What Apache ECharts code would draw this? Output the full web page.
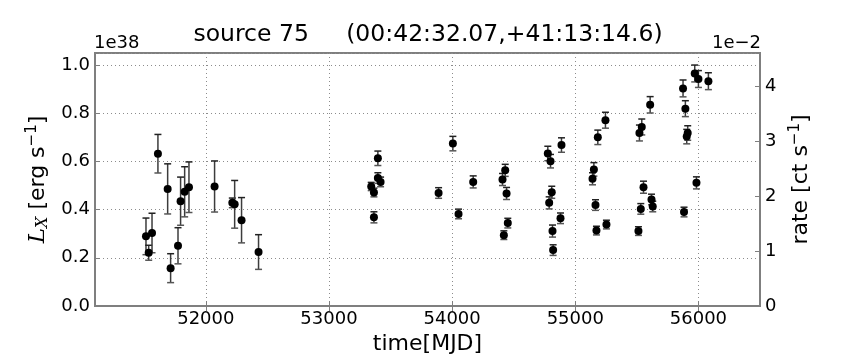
<!DOCTYPE html>
<html>
<head>
<meta charset="utf-8">
<script src="https://cdn.jsdelivr.net/npm/echarts@6/dist/echarts.min.js"></script>
<style>html,body{margin:0;padding:0;background:#fff}#c{width:864px;height:360px}</style>
</head>
<body>
<div id="c"></div>
<script>
// ---- data ----
var mjd = [51514,51536,51563,51611,51690,51714,51774,51795,51828,51863,52071,52215,52234,52290,52428,
  53343,53365,53365,53397,53397,53419,53890,54006,54052,54171,54409,54431,54442,54420,54452,
  54777,54799,54788,54809,54815,54820,54888,54880,55140,55151,55164,55172,55183,55245,55253,
  55513,55521,55540,55532,55554,55608,55619,55629,55875,55883,55894,55905,55913,55970,55984,56000,56081];
var lum = [0.289,0.221,0.303,0.632,0.486,0.157,0.250,0.435,0.474,0.493,0.496,0.428,0.422,0.356,0.224,
  0.496,0.471,0.368,0.613,0.531,0.515,0.469,0.674,0.382,0.515,0.525,0.563,0.467,0.294,0.344,
  0.633,0.601,0.428,0.472,0.311,0.232,0.668,0.364,0.528,0.567,0.419,0.313,0.700,0.771,0.338,
  0.311,0.718,0.743,0.403,0.493,0.835,0.442,0.413,0.903,0.390,0.819,0.703,0.718,0.965,0.511,0.942,0.933];
var lumErr = [0.076,0.031,0.082,0.080,0.104,0.060,0.075,0.100,0.104,0.105,0.106,0.020,0.099,0.094,0.072,
  0.017,0.018,0.023,0.030,0.022,0.020,0.022,0.030,0.020,0.025,0.025,0.025,0.025,0.018,0.020,
  0.030,0.028,0.025,0.025,0.025,0.022,0.030,0.022,0.025,0.028,0.022,0.018,0.030,0.033,0.018,
  0.018,0.033,0.033,0.022,0.025,0.034,0.022,0.022,0.035,0.020,0.033,0.030,0.030,0.035,0.025,0.035,0.035];
var xTicks = [52000,53000,54000,55000,56000];
var lumTickStep = 0.2;
var rateTickStep = 1;
var titleText = 'source 75     (00:42:32.07,+41:13:14.6)';

var pts = mjd.map(function(m,i){return [m, lum[i], lumErr[i]];});

var chart = echarts.init(document.getElementById('c'), null, {renderer:'canvas'});
var FONT = 'DejaVu Sans';
var axisCol = '#7f7f7f';
var gridLine = {show:true, lineStyle:{color:'#8c8c8c', type:[1,3], width:1}};

chart.setOption({
  animation:false,
  backgroundColor:'#fff',
  textStyle:{fontFamily:FONT},
  grid:{left:95, right:104, top:53, bottom:54, show:true, borderColor:axisCol, borderWidth:2, backgroundColor:'transparent'},
  graphic:[
    {type:'text', x:428, y:47, style:{text:titleText, font:'23.5px "DejaVu Sans"', fill:'#000', textAlign:'center', textVerticalAlign:'bottom'}},
    {type:'text', x:94, y:52, style:{text:'1e38', font:'18px "DejaVu Sans"', fill:'#000', textAlign:'left', textVerticalAlign:'bottom'}},
    {type:'text', x:761, y:52, style:{text:'1e\u22122', font:'18px "DejaVu Sans"', fill:'#000', textAlign:'right', textVerticalAlign:'bottom'}}
  ],
  xAxis:[{
    type:'value', min:51100, max:56500, position:'bottom',
    axisLine:{show:true, lineStyle:{color:axisCol, width:2}},
    axisTick:{show:true, inside:true, length:5, customValues:xTicks, lineStyle:{color:axisCol, width:1}},
    axisLabel:{show:true, customValues:xTicks, color:'#000', fontSize:18, fontFamily:FONT, margin:4,
      formatter:function(v){return String(v);}},
    splitLine:gridLine,
    name:'time[MJD]', nameLocation:'middle', nameGap:22,
    nameTextStyle:{color:'#000', fontSize:22, fontFamily:FONT}
  },{
    type:'value', min:51100, max:56500, position:'top',
    axisLine:{show:true, lineStyle:{color:axisCol, width:2}},
    axisTick:{show:true, inside:true, length:5, customValues:xTicks, lineStyle:{color:axisCol, width:1}},
    axisLabel:{show:false}, splitLine:{show:false}
  }],
  yAxis:[{
    type:'value', min:0, max:1.05, interval:lumTickStep, position:'left',
    axisLine:{show:true, lineStyle:{color:axisCol, width:2}},
    axisTick:{show:true, inside:true, length:5, lineStyle:{color:axisCol, width:1}},
    axisLabel:{color:'#000', fontSize:18, fontFamily:FONT, margin:5, showMaxLabel:false,
      formatter:function(v){return v.toFixed(1);}},
    splitLine:gridLine,
    name:'{L|L}{sub|X} [erg s{sup|\u22121}]', nameLocation:'middle', nameRotate:90, nameGap:37,
    nameTextStyle:{color:'#000', fontSize:22, fontFamily:FONT,
      rich:{
        L:{fontSize:23, fontStyle:'italic', fontFamily:'DejaVu Serif', color:'#000'},
        sub:{fontSize:16, fontStyle:'italic', fontFamily:'DejaVu Serif', color:'#000', padding:[8,0,0,0]},
        sup:{fontSize:15, fontFamily:FONT, color:'#000', padding:[0,0,12,0]}
      }}
  },{
    type:'value', min:0, max:4.6, interval:rateTickStep, position:'right',
    axisLine:{show:true, lineStyle:{color:axisCol, width:2}},
    axisTick:{show:true, inside:true, length:5, lineStyle:{color:axisCol, width:1}},
    axisLabel:{color:'#000', fontSize:18, fontFamily:FONT, margin:5, showMaxLabel:false},
    splitLine:{show:false},
    name:'rate [ct s{sup|\u22121}]', nameLocation:'middle', nameRotate:90, nameGap:24,
    nameTextStyle:{color:'#000', fontSize:22, fontFamily:FONT,
      rich:{sup:{fontSize:15, fontFamily:FONT, color:'#000', padding:[0,0,12,0]}}}
  }],
  series:[{
    type:'custom', xAxisIndex:0, yAxisIndex:0, data:pts, z:2, clip:true,
    encode:{x:0, y:1},
    renderItem:function(params, api){
      var x = api.value(0), y = api.value(1), e = api.value(2);
      var lo = api.coord([x, y-e]), hi = api.coord([x, y+e]);
      var w = 3.5;
      var st = {stroke:'#3c3c3c', lineWidth:1.5};
      return {type:'group', children:[
        {type:'line', shape:{x1:lo[0], y1:lo[1], x2:hi[0], y2:hi[1]}, style:st},
        {type:'line', shape:{x1:lo[0]-w, y1:lo[1], x2:lo[0]+w, y2:lo[1]}, style:{stroke:'#555', lineWidth:1.5}},
        {type:'line', shape:{x1:hi[0]-w, y1:hi[1], x2:hi[0]+w, y2:hi[1]}, style:{stroke:'#222', lineWidth:1.5}}
      ]};
    }
  },{
    type:'scatter', xAxisIndex:0, yAxisIndex:0, data:pts.map(function(p){return [p[0],p[1]];}),
    symbol:'circle', symbolSize:8, itemStyle:{color:'#000', opacity:1}, z:3
  }]
});
</script>
</body>
</html>
